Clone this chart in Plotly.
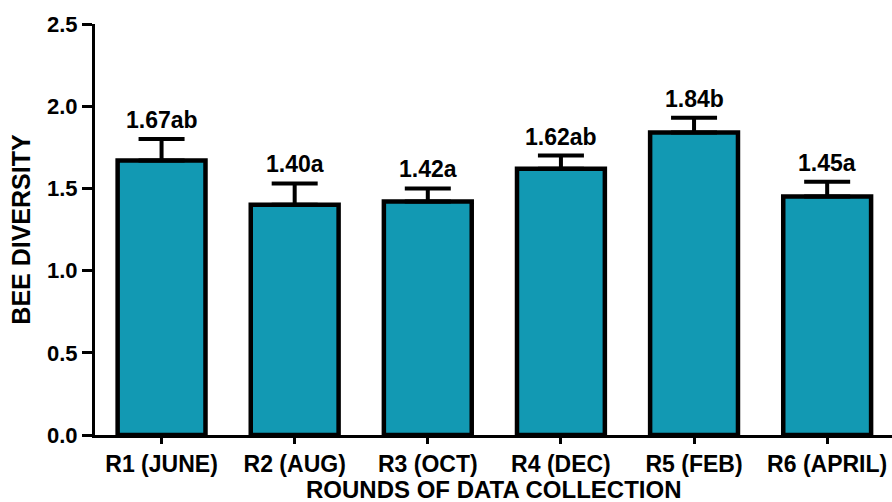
import plotly.graph_objects as go

# Bee diversity per sampling round (mean, SE and significance letters)
rounds = ["R1 (JUNE)", "R2 (AUG)", "R3 (OCT)", "R4 (DEC)", "R5 (FEB)", "R6 (APRIL)"]
diversity = [1.67, 1.40, 1.42, 1.62, 1.84, 1.45]
std_err = [0.13, 0.13, 0.08, 0.08, 0.09, 0.09]
letters = ["ab", "a", "a", "ab", "b", "a"]
y_ticks = [0.0, 0.5, 1.0, 1.5, 2.0, 2.5]

FONT = "Liberation Sans, Arial, sans-serif"
BAR_COLOR = "#1299B3"

fig = go.Figure()
fig.add_trace(go.Bar(
    x=list(range(len(rounds))),
    y=diversity,
    width=0.66,
    marker=dict(color=BAR_COLOR, line=dict(color="black", width=4.5)),
    error_y=dict(type="data", symmetric=False, array=std_err,
                 arrayminus=[0] * len(std_err),
                 color="black", thickness=4, width=23),
    showlegend=False,
))

# Mean value with letter grouping above each error bar
for i, (v, e, lt) in enumerate(zip(diversity, std_err, letters)):
    fig.add_annotation(
        x=i, y=v + e, text=f"{v:.2f}{lt}", showarrow=False,
        yanchor="bottom", yshift=4,
        font=dict(family=FONT, size=23, color="black", weight="bold"),
    )

# x-axis title placed below the category labels
fig.add_annotation(
    xref="paper", yref="paper", x=0.5, y=-0.132, yanchor="middle",
    text="ROUNDS OF DATA COLLECTION", showarrow=False,
    font=dict(family=FONT, size=24, color="black", weight="bold"),
)

fig.update_layout(
    width=892, height=502,
    margin=dict(l=95, r=0, t=24, b=67),
    plot_bgcolor="white", paper_bgcolor="white",
    xaxis=dict(
        range=[-0.5, 5.487],
        tickmode="array", tickvals=list(range(len(rounds))), ticktext=rounds,
        ticks="outside", ticklen=6, tickwidth=3, tickcolor="black",
        showline=True, linewidth=3, linecolor="black",
        showgrid=False, zeroline=False,
        tickfont=dict(family=FONT, size=23, color="black", weight="bold"),
    ),
    yaxis=dict(
        range=[0, 2.5],
        tickmode="array", tickvals=y_ticks, tickformat=".1f",
        ticks="outside", ticklen=10, tickwidth=3, tickcolor="black",
        showline=True, linewidth=3, linecolor="black",
        showgrid=False, zeroline=False,
        tickfont=dict(family=FONT, size=22, color="black", weight="bold"),
        title=dict(text="BEE DIVERSITY", standoff=10,
                   font=dict(family=FONT, size=25, color="black", weight="bold")),
    ),
)

fig.write_html("out.html")
